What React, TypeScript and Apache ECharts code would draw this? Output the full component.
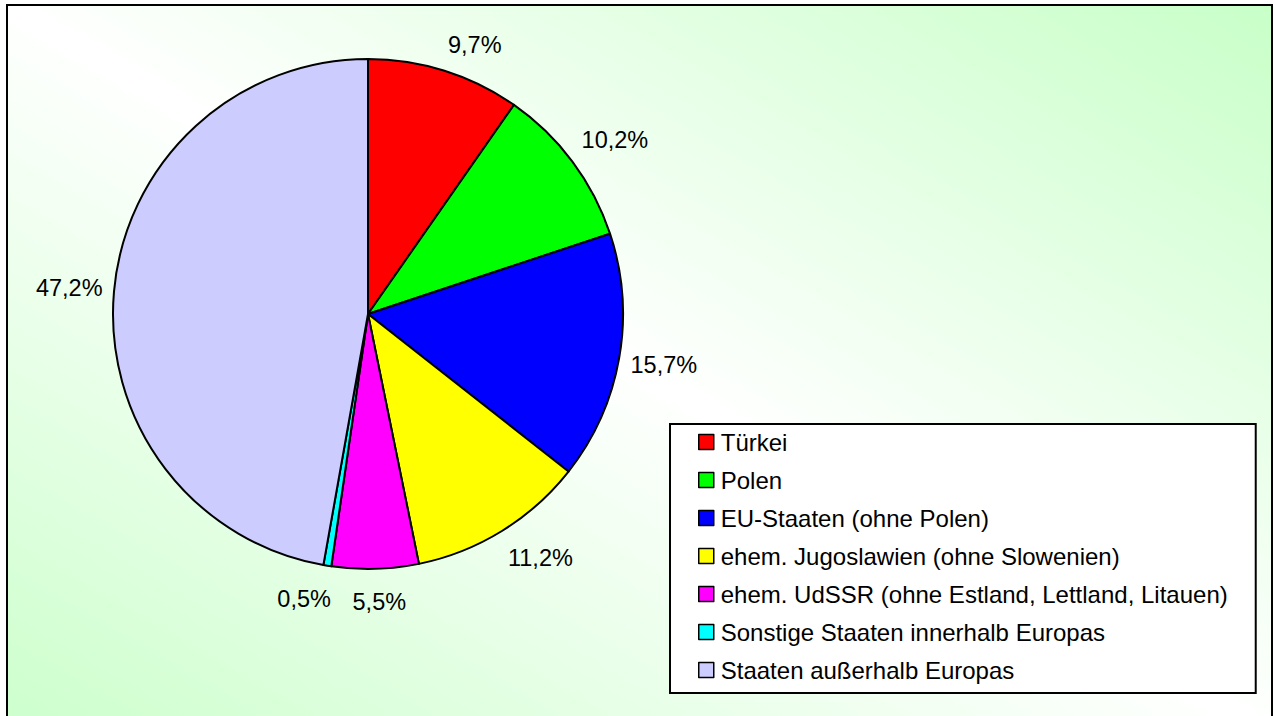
import React, { useEffect, useRef } from "react";
import * as echarts from "echarts";

const categories = [
  "Türkei",
  "Polen",
  "EU-Staaten (ohne Polen)",
  "ehem. Jugoslawien (ohne Slowenien)",
  "ehem. UdSSR (ohne Estland, Lettland, Litauen)",
  "Sonstige Staaten innerhalb Europas",
  "Staaten außerhalb Europas",
];
const shares = [9.7, 10.2, 15.7, 11.2, 5.5, 0.5, 47.2];
const colors = ["#ff0000", "#00ff00", "#0000ff", "#ffff00", "#ff00ff", "#00ffff", "#ccccff"];

const FONT = "'Liberation Sans', Arial, sans-serif";
const CX = 368;
const CY = 314;
const R = 255;
const LABEL_GAP = 11.5;

export default function App() {
  const ref = useRef<HTMLDivElement>(null);
  useEffect(() => {
    if (!ref.current) return;
    const chart = echarts.init(ref.current, undefined, { renderer: "svg" });
    const fmt = (v: number) => v.toFixed(1).replace(".", ",") + "%";
    const total = shares.reduce((a, b) => a + b, 0);
    const midAngles: number[] = [];
    let acc = 0;
    shares.forEach((v) => {
      midAngles.push(((acc + v / 2) / total) * Math.PI * 2);
      acc += v;
    });
    const clamp = (x: number) => Math.max(-1, Math.min(1, x));
    const option: any = {
      animation: false,
      backgroundColor: "#ffffff",
      textStyle: { fontFamily: FONT },
      graphic: [
        {
          type: "rect",
          z: -10,
          shape: { x: 7, y: 5, width: 1265, height: 730 },
          style: {
            fill: new echarts.graphic.LinearGradient(0, 1, 1, 0, [
              { offset: 0, color: "#ccffcc" },
              { offset: 0.5, color: "#ffffff" },
              { offset: 1, color: "#c8ffc8" },
            ]),
            stroke: "#000000",
            lineWidth: 2,
          },
        },
      ],
      legend: {
        orient: "vertical",
        left: 670,
        top: 424,
        padding: [6, 28, 11, 28],
        backgroundColor: "#ffffff",
        borderColor: "#000000",
        borderWidth: 2,
        borderRadius: 0,
        itemWidth: 15,
        itemHeight: 15,
        itemGap: 14,
        icon: "rect",
        selectedMode: false,
        data: categories,
        itemStyle: { borderColor: "#000000", borderWidth: 1.5 },
        textStyle: {
          fontFamily: FONT,
          fontSize: 24,
          color: "#000000",
          lineHeight: 24,
          padding: [0, 0, 0, 2],
        },
      },
      series: [
        {
          type: "pie",
          center: [CX, CY],
          radius: [0, R],
          startAngle: 90,
          clockwise: true,
          silent: true,
          itemStyle: { borderColor: "#000000", borderWidth: 2 },
          label: {
            show: true,
            position: "outside",
            alignTo: "none",
            overflow: "none",
            edgeDistance: 0,
            fontFamily: FONT,
            fontSize: 23.5,
            color: "#000000",
            formatter: (p: any) => fmt(p.value),
          },
          labelLine: { show: false },
          labelLayout: (p: any) => {
            const a = midAngles[p.dataIndex];
            const s = Math.sin(a);
            const c = -Math.cos(a);
            const ax = CX + (R + LABEL_GAP) * s;
            const ay = CY + (R + LABEL_GAP) * c;
            const w = p.labelRect.width;
            const h = p.labelRect.height;
            const down = c > 0 ? 7 * Math.pow(c, 6) : 0;
            return {
              x: ax + (w / 2) * clamp(s * 5),
              y: ay + (h / 2 + 3) * clamp(c * 2) + down,
              align: "center",
              verticalAlign: "middle",
            };
          },
          data: categories.map((n, i) => ({
            name: n,
            value: shares[i],
            itemStyle: { color: colors[i] },
          })),
        },
      ],
    };
    chart.setOption(option);
    return () => chart.dispose();
  }, []);
  return (
    <div
      ref={ref}
      style={{ position: "absolute", left: 0, top: 0, width: 1275, height: 716 }}
    />
  );
}
